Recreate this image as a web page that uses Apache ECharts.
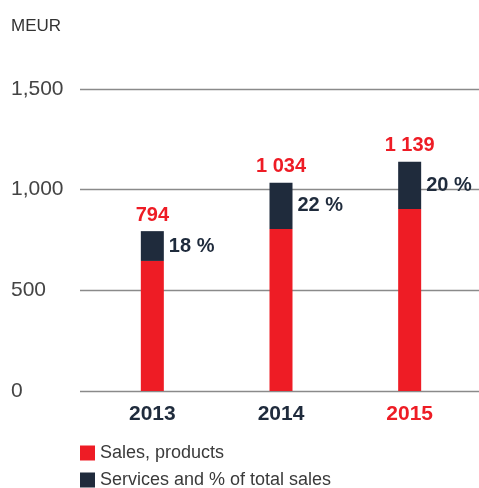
<!DOCTYPE html>
<html><head><meta charset="utf-8">
<script src="https://cdn.jsdelivr.net/npm/echarts@6/dist/echarts.min.js"></script>
<style>html,body{margin:0;padding:0;background:#fff}#c{width:479px;height:488px}</style>
</head><body><div id="c"></div>
<script>
var years = ['2013', '2014', '2015'];
var products = [646, 805, 904];
var services = [148, 229, 235];
var totals = ['794', '1 034', '1 139'];
var shares = ['18 %', '22 %', '20 %'];
var yTicks = [0, 500, 1000, 1500];

var RED = '#ee1c25', NAVY = '#1f2b3c';
var FONT = '"Liberation Sans", Arial, sans-serif';
var legendText = {fontSize: 18, color: '#3a3a3a', fontFamily: FONT};
var chart = echarts.init(document.getElementById('c'));
chart.setOption({
  animation: false,
  textStyle: {fontFamily: FONT},
  graphic: [{type: 'text', left: 11, top: 18, style: {text: 'MEUR', fontSize: 17, fill: '#333', fontFamily: FONT}}],
  grid: [
    {left: 80, right: 0, top: 89, bottom: 97},
    {left: 88, right: 5, top: 89, bottom: 97}
  ],
  legend: [
    {left: 80, top: 444, padding: 0, itemWidth: 15, itemHeight: 15, icon: 'rect',
     data: ['Sales, products'], textStyle: legendText},
    {left: 80, top: 471, padding: 0, itemWidth: 15, itemHeight: 15, icon: 'rect',
     data: ['Services and % of total sales'], textStyle: legendText}
  ],
  xAxis: [
    {type: 'category', gridIndex: 0, show: false, data: years},
    {type: 'category', gridIndex: 1, data: years,
     axisLine: {show: false}, axisTick: {show: false},
     axisLabel: {fontSize: 21, fontWeight: 'bold', margin: 13,
       color: function (v, i) { return v === '2015' ? RED : NAVY; }}}
  ],
  yAxis: [
    {type: 'value', gridIndex: 0, min: 0, max: 1500, interval: 500,
     axisLine: {show: false}, axisTick: {show: false},
     splitLine: {lineStyle: {color: '#8a8a8a', width: 1.3}},
     axisLabel: {fontSize: 21, color: '#444', align: 'left', margin: 69,
       formatter: function (v) { return yTicks.indexOf(v) >= 0 ? (v >= 1000 ? String(v).replace(/(\d)(\d{3})$/, '$1,$2') : String(v)) : ''; }}},
    {type: 'value', gridIndex: 1, min: 0, max: 1500, interval: 500, show: false}
  ],
  series: [
    {name: 'Sales, products', type: 'bar', xAxisIndex: 1, yAxisIndex: 1, stack: 's',
     barWidth: 23, itemStyle: {color: RED}, data: products},
    {name: 'Services and % of total sales', type: 'bar', xAxisIndex: 1, yAxisIndex: 1, stack: 's',
     barWidth: 23, itemStyle: {color: NAVY}, data: services,
     label: {show: true, position: 'right', distance: 5, fontSize: 20, fontWeight: 'bold', color: NAVY,
       formatter: function (p) { return shares[p.dataIndex]; }}},
    {name: 'total', type: 'bar', xAxisIndex: 1, yAxisIndex: 1, stack: 's',
     barWidth: 23, itemStyle: {color: 'transparent'}, data: [0, 0, 0],
     label: {show: true, position: 'top', distance: 6, fontSize: 20, fontWeight: 'bold', color: RED,
       formatter: function (p) { return totals[p.dataIndex]; }}}
  ]
});
</script></body></html>
